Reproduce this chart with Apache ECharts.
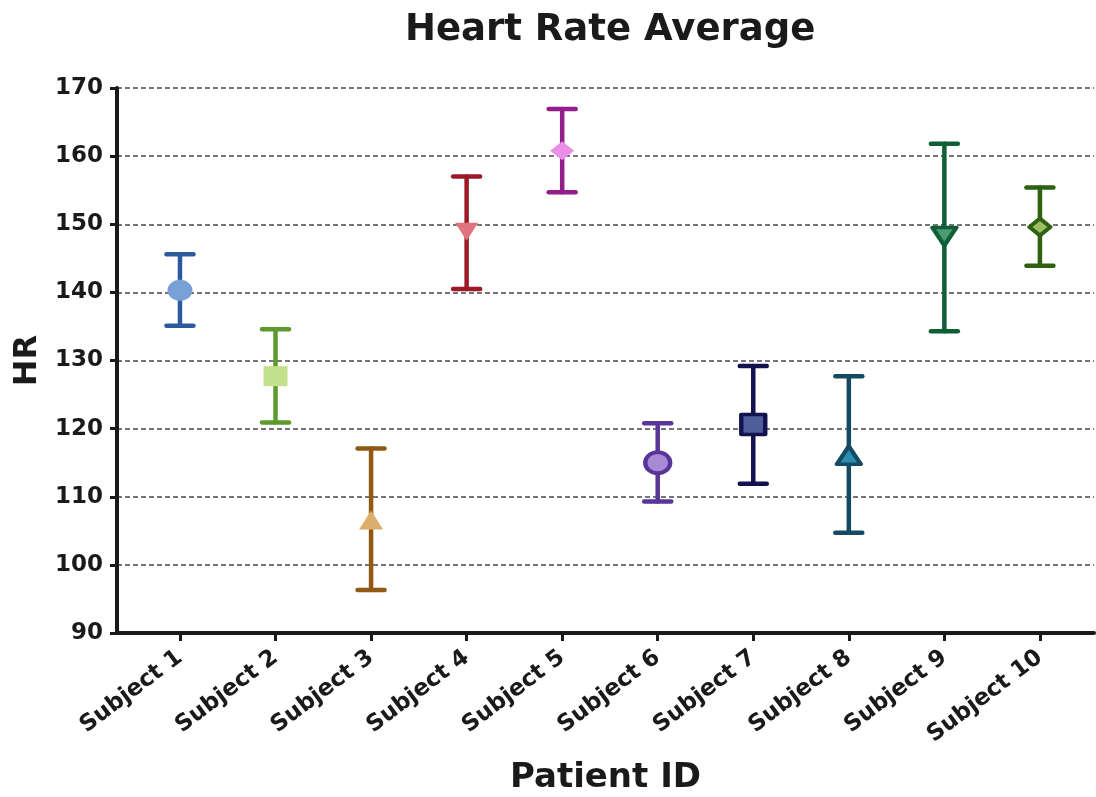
<!DOCTYPE html>
<html>
<head>
<meta charset="utf-8">
<title>Heart Rate Average</title>
<script src="https://cdn.jsdelivr.net/npm/echarts@6/dist/echarts.min.js"></script>
<style>
  html, body { margin: 0; padding: 0; background: #ffffff; }
  #chart { width: 1096px; height: 797px; }
</style>
</head>
<body>
<div id="chart"></div>
<script>
// Mean heart rate per subject with low/high error bar limits (bpm)
const subjects = ['Subject 1', 'Subject 2', 'Subject 3', 'Subject 4', 'Subject 5',
                  'Subject 6', 'Subject 7', 'Subject 8', 'Subject 9', 'Subject 10'];
const meanHR = [140.3, 127.7, 106.6, 148.9, 160.8, 115.0, 120.6, 116.1, 148.2, 149.6];
const lowHR  = [135.1, 120.9, 96.3, 140.5, 154.7, 109.3, 111.9, 104.7, 134.3, 143.9];
const highHR = [145.6, 134.6, 117.1, 157.0, 166.9, 120.8, 129.2, 127.7, 161.8, 155.4];
const yTicks = [90, 100, 110, 120, 130, 140, 150, 160, 170];

// Per-subject styling
const barColors  = ['#2d5a9e', '#5c9a2c', '#905a14', '#9a1a28', '#941c8c',
                    '#5a3598', '#12124f', '#144a62', '#0f5f36', '#2e6211'];
const fillColors = ['#7aa0d8', '#c3e08c', '#dcae6c', '#e0737d', '#e990e6',
                    '#a78ad6', '#4f5d9c', '#2a8db0', '#4c9a72', '#9cbd62'];
const symbols = ['circle', 'rect', 'triangle', 'triangle', 'diamond',
                 'circle', 'rect', 'triangle', 'triangle', 'diamond'];
const symbolRotations = [0, 0, 0, 180, 0, 0, 0, 0, 180, 0];
const symbolSizes = [[25, 21], [24, 20], [24, 19], [23, 18], [24, 19],
                     [25, 21], [24, 20], [24, 18], [24, 18], [21, 17]];
const outlined = [false, false, false, false, false, true, true, true, true, true];

const FONT = 'DejaVu Sans';
const INK = '#1a1a1a';

const positions = subjects.map((_, i) => i + 1);

const errorData = subjects.map((_, i) => [positions[i], lowHR[i], highHR[i], i]);

const markerData = subjects.map((_, i) => ({
  value: [positions[i], meanHR[i]],
  symbol: symbols[i],
  symbolRotate: symbolRotations[i],
  symbolSize: symbolSizes[i],
  itemStyle: {
    color: fillColors[i],
    opacity: 1,
    borderColor: barColors[i],
    borderWidth: outlined[i] ? 4 : 0,
    borderJoin: 'round'
  }
}));

const chart = echarts.init(document.getElementById('chart'), null, { renderer: 'canvas' });

chart.setOption({
  backgroundColor: '#ffffff',
  animation: false,
  title: {
    text: 'Heart Rate Average',
    left: 400,
    top: 7,
    textStyle: { fontFamily: FONT, fontWeight: 'bold', fontSize: 37, color: INK }
  },
  grid: { left: 117, right: 2, top: 88, bottom: 164, containLabel: false, outerBoundsMode: 'none' },
  xAxis: {
    type: 'value',
    min: 0.341,
    max: 10.566,
    name: 'Patient ID',
    nameLocation: 'middle',
    nameGap: 128,
    nameTextStyle: { fontFamily: FONT, fontWeight: 'bold', fontSize: 34, color: INK },
    axisLine: { onZero: false, lineStyle: { color: INK, width: 4 } },
    axisTick: { show: true, inside: false, length: 8, lineStyle: { color: INK, width: 3 },
                customValues: positions },
    axisLabel: {
      customValues: positions,
      rotate: 37,
      margin: 22,
      fontFamily: FONT, fontWeight: 'bold', fontSize: 23, color: INK,
      formatter: v => subjects[Math.round(v) - 1] || ''
    },
    splitLine: { show: false }
  },
  yAxis: {
    type: 'value',
    min: yTicks[0],
    max: yTicks[yTicks.length - 1],
    interval: 10,
    name: 'HR',
    nameLocation: 'middle',
    nameRotate: 90,
    nameGap: 73,
    nameTextStyle: { fontFamily: FONT, fontWeight: 'bold', fontSize: 32, color: INK },
    axisLine: { show: true, lineStyle: { color: INK, width: 4 } },
    axisTick: { show: true, inside: false, length: 7, lineStyle: { color: INK, width: 3 } },
    axisLabel: { margin: 14, fontFamily: FONT, fontWeight: 'bold', fontSize: 23, color: INK },
    splitLine: { show: true, lineStyle: { color: '#4a4a4a', width: 1.5, type: [5, 3] } }
  },
  series: [
    {
      // Vertical range bars with caps
      type: 'custom',
      z: 2,
      data: errorData,
      renderItem: function (params, api) {
        const x = api.value(0);
        const lo = api.coord([x, api.value(1)]);
        const hi = api.coord([x, api.value(2)]);
        const idx = api.value(3);
        const half = 13.5;
        const style = { stroke: barColors[idx], lineWidth: 4.5, lineCap: 'round', fill: null };
        return {
          type: 'group',
          children: [
            { type: 'line', shape: { x1: lo[0], y1: lo[1], x2: hi[0], y2: hi[1] }, style: style },
            { type: 'line', shape: { x1: hi[0] - half, y1: hi[1], x2: hi[0] + half, y2: hi[1] }, style: style },
            { type: 'line', shape: { x1: lo[0] - half, y1: lo[1], x2: lo[0] + half, y2: lo[1] }, style: style }
          ]
        };
      }
    },
    {
      // Mean markers
      type: 'scatter',
      z: 3,
      data: markerData
    }
  ]
});
</script>
</body>
</html>
